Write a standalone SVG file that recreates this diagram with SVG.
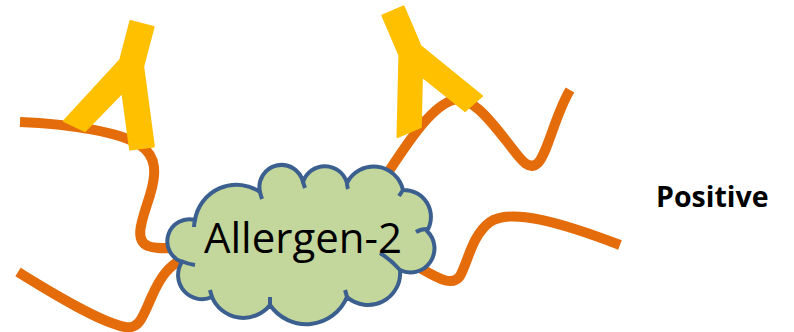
<svg xmlns="http://www.w3.org/2000/svg" width="794" height="332" viewBox="0 0 794 332">
  <style>
    .strand { fill: none; stroke: #E46C0A; stroke-width: 10; stroke-linecap: butt; stroke-linejoin: round; }
    .antibody { fill: #FFC000; stroke: #FFC000; stroke-width: 2; stroke-linejoin: round; }
    .cloud { fill: #C3D69B; stroke: #3B6090; stroke-width: 4; stroke-linejoin: round; }
    .curl { fill: none; stroke: #3B6090; stroke-width: 4; stroke-linecap: butt; }
    .label { font-family: "Open Sans", "Noto Sans", "Liberation Sans", sans-serif; fill: #000; }
  </style>
  <rect width="794" height="332" fill="#FFFFFF"/>

  <!-- orange strands, drawn beneath the allergen and the antibodies -->
  <g id="connectors">
    <path class="strand" d="M20,122 C70,124 120,132 140,145 C158,157 156,175 150,195 C143,218 133,240 148,246 C155,249 165,248 185,248"/>
    <path class="strand" d="M18,272 C55,295 100,322 125,327 C140,330 143,315 152,296 C160,278 168,265 188,256"/>
    <path class="strand" d="M375,192 C400,155 425,112 450,101 C470,93 490,120 508,143 C520,158 528,172 538,163 C548,152 555,115 570,90"/>
    <path class="strand" d="M405,260 C430,272 450,290 460,276 C468,262 472,235 490,222 C510,208 560,222 620,245"/>
  </g>

  <!-- left antibody -->
  <g id="antibody-left">
    <polygon class="antibody" points="130.4,21 153.6,27 143.2,66.6 153.9,146.4 130.1,149.6 122.4,92.5 85,131 64,121 120.2,59.9"/>
  </g>

  <!-- right antibody -->
  <g id="antibody-right">
    <polygon class="antibody" points="382.4,15.5 403.6,6.5 420.5,46 482,96 465,111 421.9,76.5 420.8,127 397.5,137 399.4,55.4"/>
  </g>

  <!-- allergen cloud -->
  <g id="allergen">
    <path class="cloud" d="M182,262 A22,22 0 0 1 195,220 A42,42 0 0 1 260,192 A22,22 0 0 1 303,182 A23,23 0 0 1 347,183 A30,30 0 0 1 403,190 A27,27 0 0 1 427,231 A24,24 0 0 1 400,270 A32,32 0 0 1 347,297 A44,44 0 0 1 270,305 A34,34 0 0 1 212,297 A24,24 0 0 1 182,262 Z"/>
    <!-- inner fold lines of the cloud lobes -->
    <path class="curl" d="M400,270 Q390,259 380,253"/>
    <path class="curl" d="M181,261 Q188,264 195,265"/>
    <path class="curl" d="M427,229 Q421,229 416,232"/>
    <path class="curl" d="M195,220 Q194,224 194,227"/>
    <path class="curl" d="M260,192 Q261,196 262,199"/>
    <path class="curl" d="M303,182 Q304,185 305,188"/>
    <path class="curl" d="M347,183 Q347,186 348,189"/>
    <path class="curl" d="M403,190 Q401,193 399,196"/>
    <path class="curl" d="M212,297 Q211,294 210,290"/>
    <path class="curl" d="M270,305 Q270,301 270,297"/>
    <path class="curl" d="M347,297 Q346,293 345,290"/>
    <text class="label" x="303" y="253" font-size="42" text-anchor="middle">Allergen-2</text>
  </g>

  <g id="result">
    <text class="label" x="656" y="207" font-size="28.5" font-weight="bold">Positive</text>
  </g>
</svg>
